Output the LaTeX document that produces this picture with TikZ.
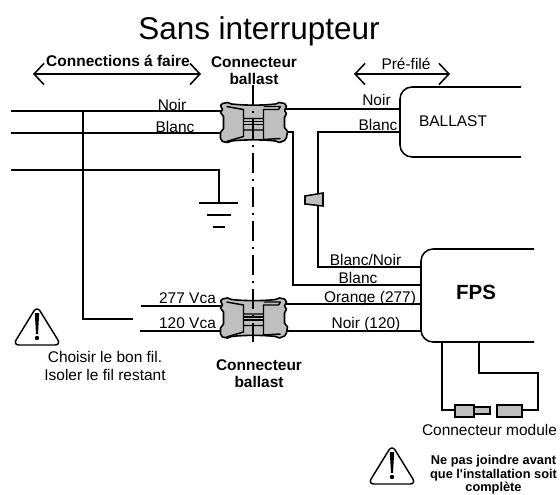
\documentclass[tikz,border=0pt]{standalone}
\usepackage{fontspec}
\setmainfont{Liberation Sans}[Ligatures=TeXOff]
\usetikzlibrary{arrows.meta}
\tikzset{
  wire/.style={draw=black,line width=1.15pt},
  lab/.style={inner sep=0pt,anchor=base,font=\fontsize{11.6}{14}\selectfont},
  blab/.style={inner sep=0pt,anchor=base,font=\fontsize{11.6}{14}\selectfont\bfseries},
  warnlab/.style={inner sep=0pt,anchor=base,font=\fontsize{9.6}{11}\selectfont\bfseries},
  span/.style={draw=black,line width=1.15pt,{Straight Barb[length=7.5pt,width=16pt]}-{Straight Barb[length=7.5pt,width=16pt]}},
  partgray/.style={draw=black,line width=1.15pt,fill=black!25},
  conn/.pic={
    \draw[draw=black,line width=1.2pt,fill=black!25,line join=round]
      (-26,-20) -- (-22,-18.5) .. controls (-10,-17) and (10,-17) .. (22,-18.5) -- (26,-20)
      -- (31,-19) -- (33,-16) -- (31,-12) -- (33,-9) -- (31,-5) -- (31,5) -- (34,9) -- (33,15) -- (31,18) -- (26,20)
      -- (22,18.5) .. controls (10,17) and (-10,17) .. (-22,18.5) -- (-26,20)
      -- (-31,19) -- (-33,16) -- (-33,10) -- (-30,6) -- (-30,-6) -- (-33,-10) -- (-31,-13) -- (-33,-17) -- (-31,-19) -- cycle;
    \draw[draw=black,line width=1.1pt]
      (-27,-16) -- (-10,-13) -- (-10,14) -- (-27,19)
      (27,-16) -- (25,-13) -- (10,-13) -- (10,17)
      (10,-16) -- (27,-16)
      (-10,-4) -- (10,-4)
      (-10,7.5) -- (10,7.5)
      (27,16) -- (10,17);
    \draw[draw=black,line width=.9pt,fill=black!25] (-10,-1) rectangle (10,2);
  }
}
\begin{document}
\begin{tikzpicture}[x=.75pt,y=-.75pt]
\useasboundingbox (0,0) rectangle (560,495);
% named ends
\coordinate (inA) at (11,111);
\coordinate (inB) at (11,133);
\coordinate (inC) at (11,170);
\coordinate (c1nw) at (221,111);
\coordinate (c1sw) at (221,133);
\coordinate (c1ne) at (286,109);
\coordinate (c1se) at (286,132);
\coordinate (c2nw) at (221,306);
\coordinate (c2sw) at (221,331);
\coordinate (c2ne) at (286,304);
\coordinate (c2se) at (286,331);
\coordinate (balA) at (400,109);
\coordinate (balB) at (400,132);
\coordinate (fpsA) at (421,267);
\coordinate (fpsB) at (421,285);
\coordinate (fpsC) at (421,304);
\coordinate (fpsD) at (421,331);
\coordinate (fpsE) at (442,342);
\coordinate (fpsF) at (479,342);
\coordinate (tapA) at (83,111);
\coordinate (tapEnd) at (133,319);
\coordinate (s277) at (141,306);
\coordinate (s120) at (140,331);
\coordinate (gnd) at (219,203);
\coordinate (gnd1) at (199,203);
\coordinate (gnd2) at (238,203);
\coordinate (gnd3) at (207,215);
\coordinate (gnd4) at (231,215);
\coordinate (gnd5) at (213,227);
\coordinate (gnd6) at (225,227);
\coordinate (spanA) at (33,74);
\coordinate (spanB) at (201,74);
\coordinate (spanC) at (354,74);
\coordinate (spanD) at (450,74);
\coordinate (axisT) at (253,85);
\coordinate (axisB) at (253,342);
% title and headings
\node[inner sep=0pt,anchor=base,font=\fontsize{23.6}{28}\selectfont] (title) at (259,40) {Sans interrupteur};
\node[blab] (lconn) at (118,67) {Connections á faire};
\node[blab] (lb1a) at (254,68) {Connecteur};
\node[blab] (lb1b) at (254,85) {ballast};
\node[lab] (lpre) at (406,70) {Pré-filé};
\draw[span] (spanA) -- (spanB);
\draw[span] (spanC) -- (spanD);
% ballast and FPS boxes (open on the right)
\draw[wire,rounded corners=9pt] (521,87) -- (400,87) -- (400,157) -- (521,157);
\draw[wire,rounded corners=9pt] (534,249) -- (421,249) -- (421,342) -- (534,342);
\node[lab] (lbal) at (453,127) {BALLAST};
\node[inner sep=0pt,anchor=base,font=\fontsize{15.4}{18}\selectfont\bfseries] (lfps) at (476,299) {FPS};
% wires
\draw[wire] (inA) -- (c1nw);
\draw[wire] (inB) -- (c1sw);
\draw[wire] (inC) -| (gnd);
\draw[wire] (gnd1) -- (gnd2);
\draw[wire] (gnd3) -- (gnd4);
\draw[wire] (gnd5) -- (gnd6);
\draw[wire] (tapA) |- (tapEnd);
\draw[wire] (s277) -- (c2nw);
\draw[wire] (s120) -- (c2sw);
\draw[wire] (c1ne) -- (balA);
\draw[wire] (c1se) -| (293,285) -- (fpsB);
\draw[wire] (balB) -| (318,267) -- (fpsA);
\draw[wire] (c2ne) -- (fpsC);
\draw[wire] (c2se) -- (fpsD);
% module connector
\draw[wire] (fpsE) |- (455,410);
\draw[wire] (fpsF) |- (538,373) |- (522,410);
\node[partgray,inner sep=0pt,minimum width=14pt,minimum height=9pt] (m1) at (464.5,411) {};
\node[partgray,inner sep=0pt,minimum width=12pt,minimum height=5.5pt] (m2) at (482,410.5) {};
\node[partgray,inner sep=0pt,minimum width=18.75pt,minimum height=9pt] (m3) at (509.5,411) {};
% in-line cap
\draw[partgray] (323,193) -- (305,196) -- (305,204) -- (323,206) -- cycle;
% connectors
\pic (c1) at (253.5,122.5) {conn};
\pic (c2) at (253.5,318) {conn};
\draw[black,line width=1.15pt,dash pattern=on 15pt off 4.5pt on 1.5pt off 4.5pt] (axisT) -- (axisB);
% labels
\node[lab] (l1) at (172,111) {Noir};
\node[lab] (l2) at (175,133) {Blanc};
\node[lab] (l3) at (376.5,105.7) {Noir};
\node[lab] (l4) at (378,131) {Blanc};
\node[lab] (l5) at (187.5,303) {277 Vca};
\node[lab] (l6) at (187.5,328) {120 Vca};
\node[lab] (l7) at (365.5,266) {Blanc/Noir};
\node[lab] (l8) at (358,283) {Blanc};
\node[lab] (l9) at (370,302) {Orange (277)};
\node[lab] (l10) at (366,328) {Noir (120)};
\node[blab] (lb2a) at (259,370) {Connecteur};
\node[blab] (lb2b) at (259,387) {ballast};
\node[lab] (lmod) at (489.5,435) {Connecteur module};
\node[lab] (lw1) at (105,362) {Choisir le bon fil.};
\node[lab] (lw2) at (105,380) {Isoler le fil restant};
\node[warnlab] (lw3) at (493.5,464) {Ne pas joindre avant};
\node[warnlab] (lw4) at (493.5,478) {que l'installation soit};
\node[warnlab] (lw5) at (493.5,491.5) {complète};
% warning triangles
\foreach \tx/\ty in {37/308,392/447}{
  \begin{scope}[shift={(\tx,\ty)}]
    \draw[draw=black,line width=1.1pt,fill=white,line join=round,rounded corners=4.5pt] (0,-2) -- (24,37) -- (-24,37) -- cycle;
    \fill[black] (-2.2,5) -- (2.2,5) -- (1,26) -- (-1,26) -- cycle;
    \fill[black] (0,30) circle[radius=2.2];
  \end{scope}
}
\end{tikzpicture}
\end{document}
